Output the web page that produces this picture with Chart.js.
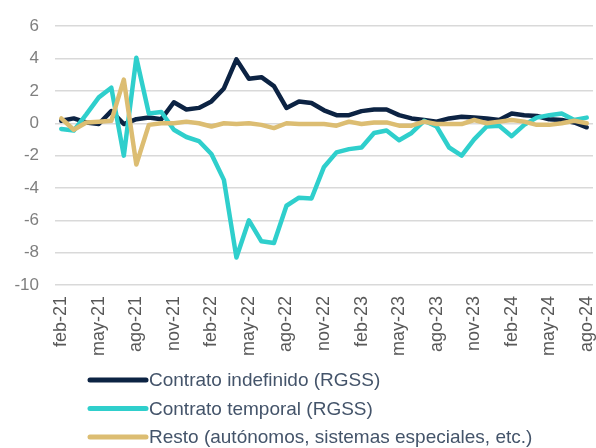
<!DOCTYPE html>
<html>
<head>
<meta charset="utf-8">
<script src="https://cdn.jsdelivr.net/npm/chart.js@4/dist/chart.umd.min.js"></script>
<style>
  html, body { margin: 0; padding: 0; background: #fff; }
  #wrap { width: 596px; height: 448px; position: relative; }
</style>
</head>
<body>
<div id="wrap"><canvas id="chart"></canvas></div>
<script>
const MONTHS = [
  "feb-21", "mar-21", "abr-21", "may-21", "jun-21", "jul-21", "ago-21", "sep-21", "oct-21", "nov-21", "dic-21",
  "ene-22", "feb-22", "mar-22", "abr-22", "may-22", "jun-22", "jul-22", "ago-22", "sep-22", "oct-22", "nov-22", "dic-22",
  "ene-23", "feb-23", "mar-23", "abr-23", "may-23", "jun-23", "jul-23", "ago-23", "sep-23", "oct-23", "nov-23", "dic-23",
  "ene-24", "feb-24", "mar-24", "abr-24", "may-24", "jun-24", "jul-24", "ago-24",
];

const indefinido = [
  0.15, 0.3, 0.05, -0.05, 0.75, -0.05, 0.25, 0.35, 0.25, 1.3, 0.85,
  0.95, 1.35, 2.15, 3.95, 2.75, 2.85, 2.3, 0.95, 1.35, 1.25, 0.8, 0.5,
  0.5, 0.75, 0.85, 0.85, 0.5, 0.3, 0.2, 0.1, 0.3, 0.4, 0.35, 0.3,
  0.2, 0.6, 0.5, 0.45, 0.25, 0.2, 0.05, -0.25,
];

const temporal = [
  -0.35, -0.45, 0.55, 1.6, 2.2, -2.0, 4.05, 0.6, 0.7, -0.4, -0.85,
  -1.1, -1.9, -3.5, -8.3, -6.0, -7.3, -7.4, -5.1, -4.6, -4.65, -2.7, -1.8,
  -1.6, -1.5, -0.6, -0.45, -1.05, -0.6, 0.15, -0.2, -1.5, -2.0, -1.0, -0.2,
  -0.15, -0.8, -0.1, 0.35, 0.5, 0.6, 0.2, 0.35,
];

const resto = [
  0.3, -0.4, 0.05, 0.1, 0.15, 2.7, -2.55, -0.1, 0.0, 0.0, 0.1,
  0.0, -0.2, 0.0, -0.05, 0.0, -0.1, -0.3, 0.0, -0.05, -0.05, -0.05, -0.15,
  0.1, -0.05, 0.05, 0.05, -0.15, -0.15, 0.1, -0.05, -0.05, -0.05, 0.2, 0.0,
  0.1, 0.2, 0.1, -0.1, -0.1, 0.0, 0.15, 0.0,
];

const SERIES_NAMES = [
  "Contrato indefinido (RGSS)",
  "Contrato temporal (RGSS)",
  "Resto (autónomos, sistemas especiales, etc.)",
];

const Y_MIN = -10;
const Y_MAX = 6;
const Y_STEP = 2;
const LABEL_EVERY = 3;

const FONT = "'Liberation Sans', Arial, sans-serif";
const COLORS = ["#0c2343", "#2fcfcc", "#dcbd72"];

// legend drawn under the axis labels, one series per row
const bottomLegend = {
  id: "bottomLegend",
  afterDraw(chart) {
    const ctx = chart.ctx;
    const rows = [380, 408.5, 437];
    ctx.save();
    ctx.font = "19px " + FONT;
    ctx.textBaseline = "middle";
    ctx.textAlign = "left";
    chart.data.datasets.forEach((ds, i) => {
      const y = rows[i];
      ctx.strokeStyle = ds.borderColor;
      ctx.lineWidth = 5;
      ctx.lineCap = "round";
      ctx.beginPath();
      ctx.moveTo(90, y);
      ctx.lineTo(146, y);
      ctx.stroke();
      ctx.fillStyle = "#44546a";
      ctx.fillText(ds.label, 149, y + 1);
    });
    ctx.restore();
  },
};

const lineDs = (label, data, color, order) => ({
  label,
  data,
  borderColor: color,
  backgroundColor: color,
  borderWidth: 4.5,
  pointRadius: 0,
  tension: 0,
  borderJoinStyle: "round",
  borderCapStyle: "round",
  order,
});

new Chart(document.getElementById("chart"), {
  type: "line",
  data: {
    labels: MONTHS,
    datasets: [
      lineDs(SERIES_NAMES[0], indefinido, COLORS[0], 2),
      lineDs(SERIES_NAMES[1], temporal, COLORS[1], 1),
      lineDs(SERIES_NAMES[2], resto, COLORS[2], 0),
    ],
  },
  options: {
    responsive: true,
    maintainAspectRatio: false,
    animation: false,
    layout: { padding: { top: 24, right: 3, left: 0, bottom: 88 } },
    plugins: {
      legend: { display: false },
      tooltip: { enabled: false },
    },
    scales: {
      x: {
        offset: true,
        grid: { display: false, drawTicks: false },
        border: { display: false },
        afterFit: (s) => {
          s.height = 75;
          s.paddingLeft = 0;
          s.paddingRight = 0;
        },
        ticks: {
          autoSkip: false,
          minRotation: 90,
          maxRotation: 90,
          padding: 11,
          color: "#595959",
          font: { family: FONT, size: 18 },
          callback: (v, i) => (i % LABEL_EVERY === 0 ? MONTHS[i] : ""),
        },
      },
      y: {
        min: Y_MIN,
        max: Y_MAX,
        afterFit: (s) => { s.width = 55; },
        grid: { color: "#d9d9d9", lineWidth: 1.5, drawTicks: false },
        border: { display: false },
        ticks: {
          stepSize: Y_STEP,
          padding: 16,
          color: "#7f7f7f",
          font: { family: FONT, size: 17 },
        },
      },
    },
  },
  plugins: [bottomLegend],
});
</script>
</body>
</html>
